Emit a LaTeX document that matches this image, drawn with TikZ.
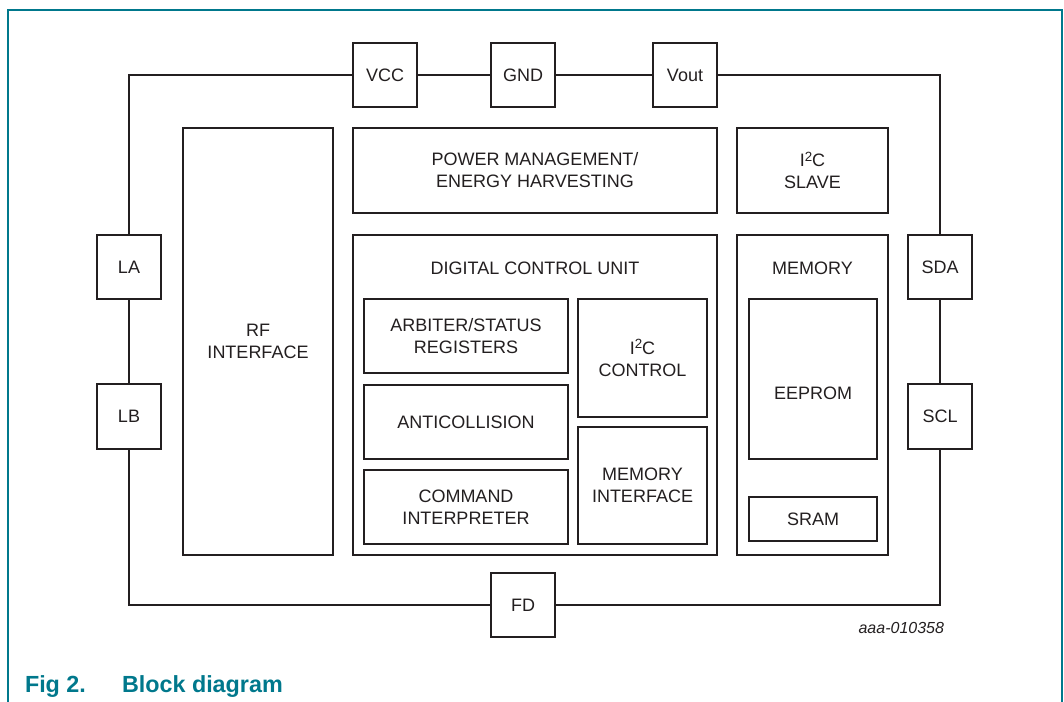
\documentclass[tikz,border=0pt]{standalone}
\usepackage{fontspec}
\setmainfont{Liberation Sans}
\setsansfont{Liberation Sans}
\definecolor{teal1}{RGB}{0,120,140}
\definecolor{ink}{RGB}{35,31,32}
\newcommand\blk[7]{\node[#1, minimum width={(#5-#3)*0.75pt}, minimum height={(#6-#4)*0.75pt}] (#2) at ({(#3+#5)/2},{(#4+#6)/2}) {#7};}
\newcommand\sqtwo{\raisebox{0.55ex}{\fontsize{10}{10}\selectfont 2}}
\begin{document}
\begin{tikzpicture}[x=0.75pt,y=-0.75pt,
  every node/.style={inner sep=0pt, outer sep=0pt, text=ink, font=\fontsize{13.5}{16.5}\selectfont, align=center},
  bigbox/.style={draw=ink, line width=1.8pt, fill=white},
  smallbox/.style={draw=ink, line width=0.95pt},
  wire/.style={draw=ink, line width=1.75pt},
  txt/.style={}]
\useasboundingbox (0,0) rectangle (1064,702);
% frame
\draw[teal1, line width=1pt] (8,702) -- (8,10) -- (1062,10) -- (1062,702);
% pins
\blk{bigbox}{vcc}{353}{43}{417}{107}{VCC}
\blk{bigbox}{gnd}{491}{43}{555}{107}{GND}
\blk{bigbox}{vout}{653}{43}{717}{107}{Vout}
\blk{bigbox}{la}{97}{235}{161}{299}{LA}
\blk{bigbox}{lb}{97}{384}{161}{449}{LB}
\blk{bigbox}{sda}{908}{235}{972}{299}{SDA}
\blk{bigbox}{scl}{908}{384}{972}{449}{SCL}
\blk{bigbox}{fd}{491}{573}{555}{637}{FD}
\coordinate (tl) at (129,75);
\coordinate (tr) at (940,75);
\coordinate (bl) at (129,605);
\coordinate (br) at (940,605);
\draw[wire] (vcc.west) -- (tl) -- (la.north);
\draw[wire] (la.south) -- (lb.north);
\draw[wire] (lb.south) -- (bl) -- (fd.west);
\draw[wire] (fd.east) -- (br) -- (scl.south);
\draw[wire] (scl.north) -- (sda.south);
\draw[wire] (sda.north) -- (tr) -- (vout.east);
\draw[wire] (vout.west) -- (gnd.east);
\draw[wire] (gnd.west) -- (vcc.east);
% main blocks
\blk{bigbox}{rf}{183}{128}{333}{555}{RF\\INTERFACE}
\blk{bigbox}{pm}{353}{128}{717}{213}{POWER MANAGEMENT/\\ENERGY HARVESTING}
\blk{bigbox}{slave}{737}{128}{888}{213}{I\sqtwo C\\SLAVE}
\blk{bigbox}{dcu}{353}{235}{717}{555}{}
\blk{bigbox}{mem}{737}{235}{888}{555}{}
\node[txt] (dcul) at (535,268) {DIGITAL CONTROL UNIT};
\node[txt] (meml) at (812.5,268) {MEMORY};
% DCU internals
\blk{smallbox}{arb}{364}{299}{568}{373}{ARBITER/STATUS\\REGISTERS}
\blk{smallbox}{anti}{364}{385}{568}{459}{ANTICOLLISION}
\blk{smallbox}{cmd}{364}{470}{568}{544}{COMMAND\\INTERPRETER}
\blk{smallbox}{i2cc}{578}{299}{707}{417}{I\sqtwo C\\CONTROL}
\blk{smallbox}{memif}{578}{427}{707}{544}{MEMORY\\INTERFACE}
% memory internals
\blk{smallbox}{eeprom}{749}{299}{877}{459}{}
\node[txt] (eepl) at (813,393) {EEPROM};
\blk{smallbox}{sram}{749}{497}{877}{541}{SRAM}
% labels
\node[anchor=base east, font=\fontsize{12}{14}\itshape] (code) at (944,633) {aaa-010358};
\node[anchor=base west, text=teal1, font=\fontsize{17.5}{20}\bfseries] (fig) at (25,692) {Fig 2.};
\node[anchor=base west, text=teal1, font=\fontsize{17.5}{20}\bfseries] (figt) at (122,692) {Block diagram};
\end{tikzpicture}
\end{document}
